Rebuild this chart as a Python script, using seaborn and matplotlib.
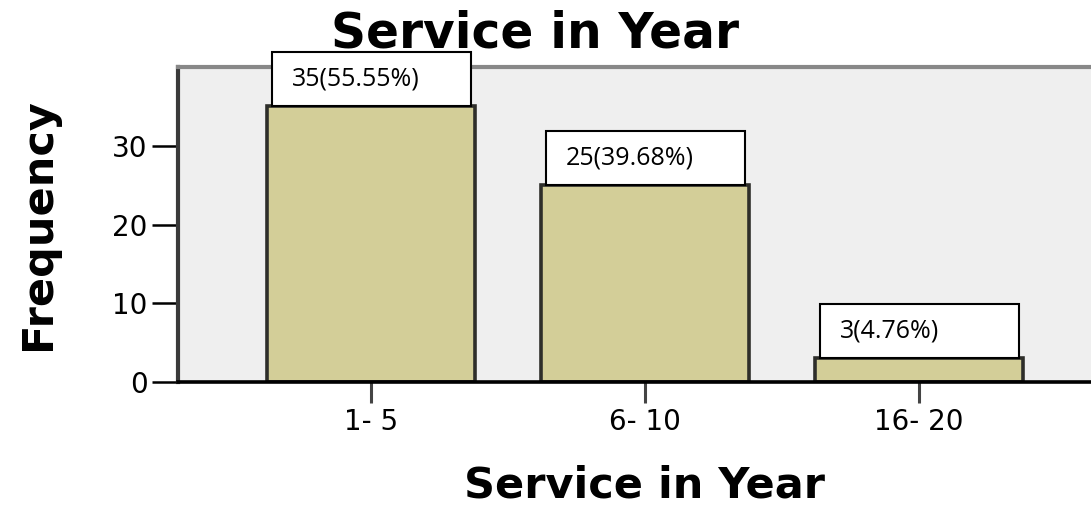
import matplotlib
matplotlib.use("Agg")
import matplotlib.pyplot as plt
from matplotlib.patches import Rectangle
import seaborn as sns
import pandas as pd

# Service length groups, their counts and shares
categories = ["1- 5", "6- 10", "16- 20"]
counts = [35, 25, 3]
percents = [55.55, 39.68, 4.76]
y_ticks = [0, 10, 20, 30]

df = pd.DataFrame({"service": categories, "frequency": counts})

sns.set_style("white")
plt.rcParams["font.family"] = ["DejaVu Sans"]
plt.rcParams["text.color"] = "black"
plt.rcParams["axes.labelcolor"] = "black"
plt.rcParams["xtick.labelcolor"] = "black"
plt.rcParams["ytick.labelcolor"] = "black"

fig = plt.figure(figsize=(10.91, 5.12), dpi=100)
ax = fig.add_axes([0.1632, 0.254, 0.856, 0.615])
ax.set_facecolor("#EFEFEF")

bar_width = 0.76
sns.barplot(data=df, x="service", y="frequency", color="#D3CE98",
            saturation=1, edgecolor="#2E2E2A", linewidth=2.6,
            width=bar_width, ax=ax, zorder=2)

ax.set_xlim(-0.704, 2.704)
ax.set_ylim(0, 40)
ax.set_yticks(y_ticks)
ax.set_yticklabels([str(t) for t in y_ticks])

# frame
ax.spines["left"].set_color("#3A3A3A")
ax.spines["left"].set_linewidth(3)
ax.spines["top"].set_color("#888888")
ax.spines["top"].set_linewidth(3)
ax.spines["bottom"].set_color("black")
ax.spines["bottom"].set_linewidth(2.6)
ax.spines["bottom"].set_zorder(5)
ax.spines["right"].set_visible(False)

ax.tick_params(axis="y", length=19, width=1.8, color="black", pad=3,
               labelsize=20, left=True)
ax.tick_params(axis="x", length=15, width=2.2, color="#444444", pad=4,
               labelsize=20, bottom=True)

ax.set_xlabel("Service in Year", fontsize=31, fontweight="bold",
              labelpad=20, color="black")
ax.set_ylabel("Frequency", fontsize=31, fontweight="bold", labelpad=38,
              color="black")
fig.text(535 / 1091, 0.935, "Service in Year", fontsize=35,
         fontweight="bold", ha="center", va="center", color="black")

# value boxes sitting on the bar tops
box_w = 0.726
box_h = 6.9
for i, (c, p) in enumerate(zip(counts, percents)):
    x0 = i - bar_width / 2 + 0.02
    rect = Rectangle((x0, c), box_w, box_h, facecolor="white",
                     edgecolor="black", linewidth=1.5, zorder=6,
                     clip_on=False)
    ax.add_patch(rect)
    ax.text(x0 + 0.07, c + box_h * 0.5, f"{c}({p:.2f}%)",
            fontsize=18, family=["Open Sans", "DejaVu Sans"],
            color="black", ha="left", va="center", zorder=7,
            clip_on=False)

fig.savefig("out.png", dpi=100)
